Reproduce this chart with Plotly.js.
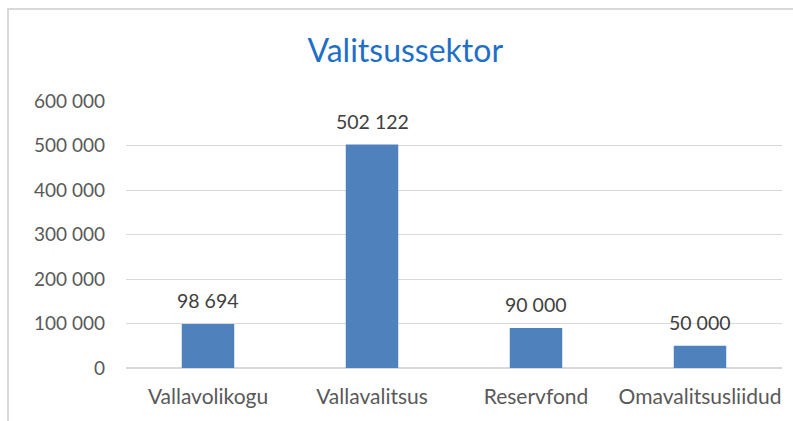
<!DOCTYPE html>
<html>
<head>
<meta charset="utf-8">
<script src="https://cdn.plot.ly/plotly-3.0.1.min.js"></script>
<style>
html,body{margin:0;padding:0;background:#fff;overflow:hidden;}
#wrap{position:relative;width:793px;height:421px;}
#chart{position:absolute;left:0;top:0;width:793px;height:421px;}
#frame{position:absolute;left:7px;top:8px;width:800px;height:430px;border:2px solid #D9D9D9;box-sizing:border-box;pointer-events:none;}
</style>
</head>
<body>
<div id="wrap"><div id="chart"></div><div id="frame"></div></div>
<script>
const categories = ["Vallavolikogu", "Vallavalitsus", "Reservfond", "Omavalitsusliidud"];
const values = [98694, 502122, 90000, 50000];
const tickVals = [0, 100000, 200000, 300000, 400000, 500000, 600000];

function fmt(n){ return String(n).replace(/\B(?=(\d{3})+(?!\d))/g, " "); }

const FONT = "Lato, 'Open Sans', 'Liberation Sans', sans-serif";

const trace = {
  type: "bar",
  x: categories,
  y: values,
  marker: {color: "#4F81BD"},
  hoverinfo: "none"
};

const annotations = categories.map((c, i) => ({
  x: c, y: values[i], xref: "x", yref: "y",
  text: fmt(values[i]), showarrow: false,
  yanchor: "bottom", yshift: 10,
  font: {family: FONT, size: 19.5, color: "#404040"}
}));

const layout = {
  width: 793, height: 421,
  margin: {l: 126, r: 11, t: 101, b: 53},
  paper_bgcolor: "rgba(0,0,0,0)",
  plot_bgcolor: "#fff",
  separators: ", ",
  showlegend: false,
  bargap: 0.68,
  title: {
    text: "Valitsussektor",
    font: {family: FONT, size: 32, color: "#1F6FC8"},
    xref: "container", x: 0.511, xanchor: "center",
    yref: "container", y: 1 - 51/421, yanchor: "middle"
  },
  xaxis: {
    showgrid: false, showline: false, zeroline: false,
    ticks: "", ticklabelstandoff: 14,
    tickfont: {family: FONT, size: 21, color: "#595959"}
  },
  yaxis: {
    range: [0, 600000], tickvals: tickVals,
    ticktext: tickVals.map(fmt),
    showgrid: true, gridcolor: "#D9D9D9", gridwidth: 1,
    zeroline: true, zerolinecolor: "#D9D9D9", zerolinewidth: 2,
    showline: false, ticks: "", ticklabelstandoff: 20,
    tickfont: {family: FONT, size: 19, color: "#595959"}
  },
  annotations: annotations
};

Plotly.newPlot("chart", [trace], layout, {displayModeBar: false, staticPlot: true});
</script>
</body>
</html>
